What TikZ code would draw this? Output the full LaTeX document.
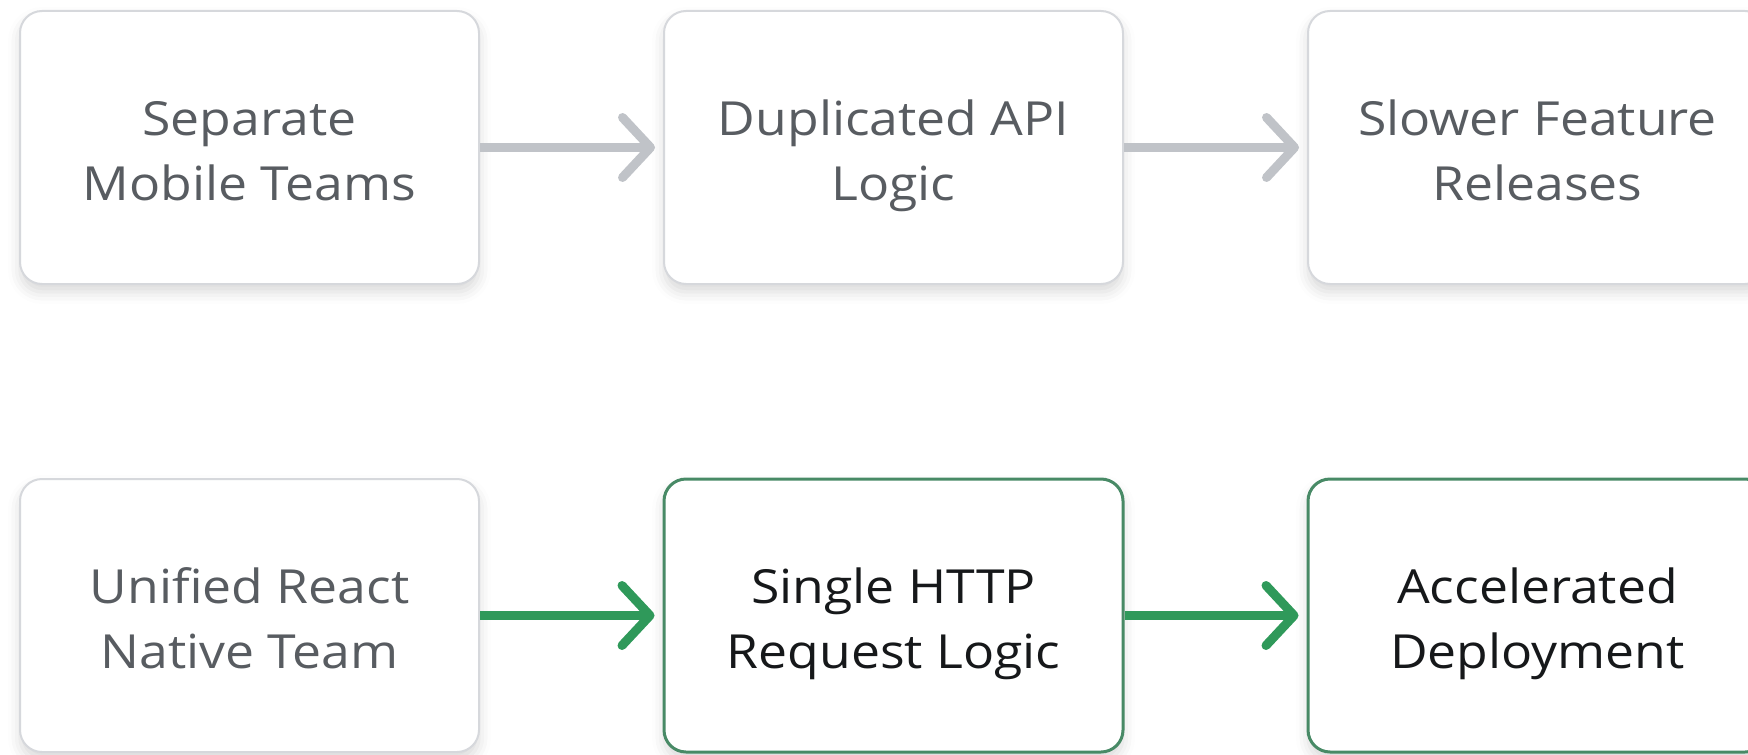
\documentclass[tikz,border=0pt]{standalone}
\usepackage{fontspec}
\setmainfont{Open Sans}[FakeStretch=1.1]
\usetikzlibrary{arrows.meta,shadows.blur}
\definecolor{boxline}{RGB}{214,216,220}
\definecolor{greyarrow}{RGB}{192,195,200}
\definecolor{greytext}{RGB}{88,92,97}
\definecolor{greenline}{RGB}{72,138,102}
\definecolor{greenarrow}{RGB}{47,153,90}
\definecolor{darktext}{RGB}{22,24,26}
% two centred lines, set a little below the middle of the box
\newcommand{\boxtext}[1]{\raisebox{-3.8pt}[\height][\depth]{\begin{tabular}{@{}c@{}}#1\end{tabular}}}
\tikzset{
  stage/.style={draw=boxline, line width=1pt, fill=white, rounded corners=11pt,
    minimum width=229.5pt, minimum height=136.5pt, text=greytext,
    font=\fontsize{23.5}{32.5}\selectfont,
    blur shadow={shadow xshift=0pt, shadow yshift=-4pt, shadow blur radius=6pt, shadow opacity=15}},
  goodstage/.style={stage, draw=greenline, line width=1.5pt, text=darktext},
  flow/.style={line width=4.5pt, shorten >=4pt, -{Straight Barb[length=14pt,width=30pt,round]}},
}
\begin{document}
\begin{tikzpicture}[x=0.5pt,y=0.5pt,yscale=-1,xscale=1]
\useasboundingbox (0,0) rectangle (1748,754);

% Top row: current situation
\node[stage] (sep) at (249.5,147.5) {\boxtext{Separate\\Mobile Teams}};
\node[stage] (dup) at (893.5,147.5) {\boxtext{Duplicated API\\Logic}};
\node[stage] (slow) at (1537.5,147.5) {\boxtext{Slower Feature\\Releases}};

% Bottom row: with React Native
\node[stage] (uni) at (249.5,615.5) {\boxtext{Unified React\\Native Team}};
\node[goodstage] (http) at (893.5,615.5) {\boxtext{Single HTTP\\Request Logic}};
\node[goodstage] (acc) at (1537.5,615.5) {\boxtext{Accelerated\\Deployment}};

% Arrows
\draw[flow, greyarrow] (sep) -- (dup);
\draw[flow, greyarrow] (dup) -- (slow);
\draw[flow, greenarrow] (uni) -- (http);
\draw[flow, greenarrow] (http) -- (acc);

\end{tikzpicture}
\end{document}
